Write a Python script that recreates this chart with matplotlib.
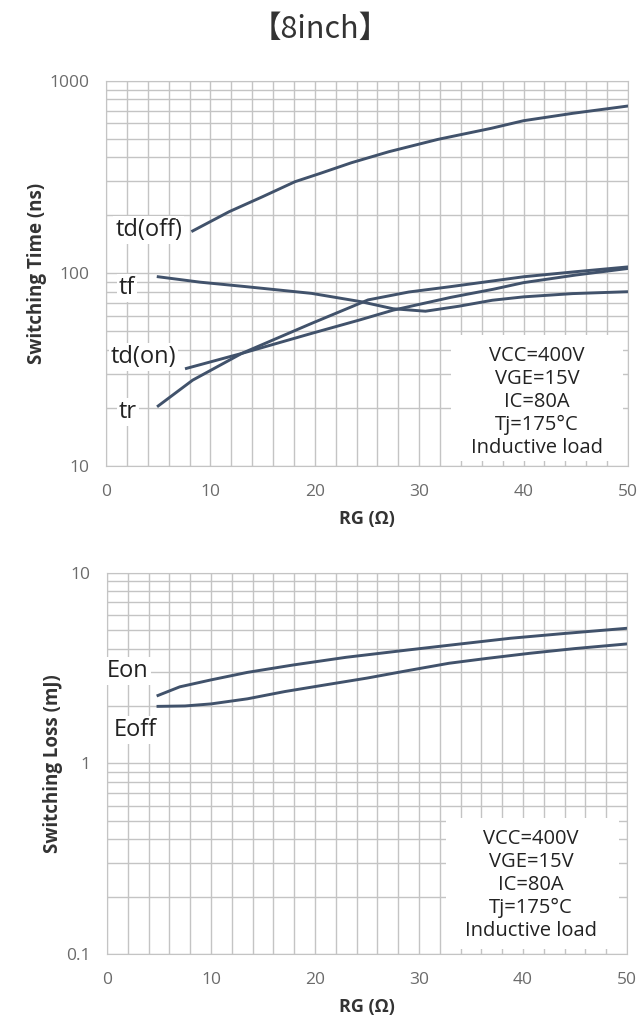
import matplotlib
matplotlib.use('Agg')
import matplotlib.pyplot as plt
import numpy as np
from matplotlib.patches import Rectangle

plt.rcParams['font.family'] = ['Open Sans', 'Noto Sans CJK SC', 'DejaVu Sans']

# switching time vs RG (ns)
rg_tdoff = [8.3, 11.8, 15, 18.1, 20.5, 23.5, 27.1, 31.8, 36.9, 40, 44.7, 50]
tdoff = [166, 209, 250, 299, 330, 375, 428, 496, 566, 620, 677, 739]
rg_tf = [5, 9, 13.4, 19.7, 24.4, 27.5, 30.6, 33.8, 37, 40, 44.7, 50]
tf = [96, 90, 85.3, 78.7, 71.3, 65.5, 63.6, 67.5, 72.5, 75.5, 78.5, 80.3]
rg_tr = [5, 8.3, 13, 19.7, 25.1, 29, 33, 40, 45, 50]
tr = [20.5, 27.9, 38.4, 55, 72.8, 80, 85.3, 96, 102, 108]
rg_tdon = [7.7, 13, 19.7, 24.3, 27.5, 33, 37.1, 40, 45, 50]
tdon = [32.1, 38.4, 48.8, 57.3, 64.4, 75, 82.7, 89.5, 98, 106]

# switching loss vs RG (mJ)
rg_eon = [4.9, 7, 10, 13.5, 17.9, 23, 28.9, 33.5, 38.8, 44, 50]
eon = [2.27, 2.52, 2.74, 3.0, 3.28, 3.6, 3.93, 4.2, 4.53, 4.8, 5.11]
rg_eoff = [4.9, 7.5, 10, 13.5, 17.1, 21, 25, 29, 32.9, 36.5, 40.7, 45, 50]
eoff = [1.99, 2.0, 2.05, 2.18, 2.38, 2.58, 2.8, 3.07, 3.35, 3.55, 3.78, 4.0, 4.23]

conditions = "VCC=400V\nVGE=15V\nIC=80A\nTj=175°C\nInductive load"
xticks = [0, 10, 20, 30, 40, 50]

line_c = '#41526b'
grid_c = '#c4c4c4'
tick_c = '#6b6b6b'

fig = plt.figure(figsize=(6.41, 10.28), dpi=100)
fig.text(0.5, 0.971, '【8inch】', ha='center', va='center', fontsize=22,
         color='#333333', family=['Noto Sans CJK SC', 'DejaVu Sans'])

ax1 = fig.add_axes([0.1654, 0.5467, 0.8143, 0.3748])
ax2 = fig.add_axes([0.1670, 0.0720, 0.8110, 0.3709])


def style(ax, ylim, yticks, ylabels, ylabel):
    ax.set_yscale('log')
    ax.set_xlim(0, 50)
    ax.set_ylim(*ylim)
    ax.set_xticks(xticks)
    ax.set_xticks(np.arange(0, 51, 2), minor=True)
    ax.set_yticks(yticks)
    ax.set_yticklabels(ylabels)
    ax.grid(True, which='both', color=grid_c, linewidth=1.0)
    ax.set_axisbelow(True)
    for s in ax.spines.values():
        s.set_color(grid_c)
    ax.tick_params(which='both', length=0, colors=tick_c, labelsize=12.5)
    ax.tick_params(axis='x', pad=13)
    ax.tick_params(axis='y', pad=12)
    ax.set_xlabel('RG (Ω)', fontsize=13, fontweight='bold', color='#333333', labelpad=7)
    ax.set_ylabel(ylabel, fontsize=13.5, fontweight='bold', color='#333333', labelpad=2)


style(ax1, (10, 1000), [10, 100, 1000], ['10', '100', '1000'], 'Switching Time (ns)')
style(ax2, (0.1, 10), [0.1, 1, 10], ['0.1', '1', '10'], 'Switching Loss (mJ)')

lw = 2.1
ax1.plot(rg_tdoff, tdoff, color=line_c, lw=lw)
ax1.plot(rg_tf, tf, color=line_c, lw=lw)
ax1.plot(rg_tr, tr, color=line_c, lw=lw)
ax1.plot(rg_tdon, tdon, color=line_c, lw=lw)

ax2.plot(rg_eon, eon, color=line_c, lw=lw)
ax2.plot(rg_eoff, eoff, color=line_c, lw=lw)

lbl = dict(fontsize=17, color='#222222', ha='center', va='center',
           bbox=dict(fc='white', ec='none', pad=1.5))
ax1.text(4.1, 168, 'td(off)', **lbl)
ax1.text(2.0, 84, 'tf', **lbl)
ax1.text(3.6, 36.7, 'td(on)', **lbl)
ax1.text(2.1, 19, 'tr', **lbl)
ax2.text(2.0, 3.05, 'Eon', **lbl)
ax2.text(2.7, 1.49, 'Eoff', **lbl)

# white condition boxes
ax1.add_patch(Rectangle((33, 10.6), 16.5, 37, fc='white', ec='none', zorder=1.5))
ax1.text(41.3, 21.5, conditions, fontsize=14.5, color='#222222', ha='center',
         va='center', linespacing=1.2, zorder=3)
ax2.add_patch(Rectangle((32.6, 0.106), 16.6, 0.41, fc='white', ec='none', zorder=1.5))
ax2.text(40.8, 0.23, conditions, fontsize=14.5, color='#222222', ha='center',
         va='center', linespacing=1.2, zorder=3)

plt.savefig('out.png', dpi=100)
